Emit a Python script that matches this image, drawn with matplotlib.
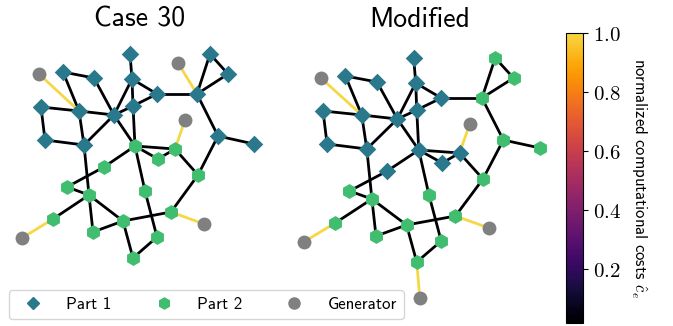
import numpy as np
import matplotlib
matplotlib.use('Agg')
import matplotlib.pyplot as plt
from matplotlib.collections import LineCollection
from matplotlib.colors import ListedColormap, Normalize
from matplotlib.cm import ScalarMappable
from matplotlib.lines import Line2D

plt.rcParams['mathtext.fontset'] = 'cm'
plt.rcParams['axes.unicode_minus'] = False
SANS = 'cmss10'

# bus layout (shared by both cases), y grows downwards
bus_names = ['A', 'B', 'C', 'D', 'E', 'F', 'G', 'H', 'I', 'J', 'K', 'L', 'M', 'N', 'O', 'P',
             'a', 'b', 'c', 'd', 'e', 'f', 'g', 'h', 'i', 'j', 'k', 'l', 'm', 'n']
bus_x = [130, 63, 94, 132, 210, 228, 157, 197, 41, 79, 133, 114, 45, 84, 218, 254,
         135, 175, 158, 104, 198, 67, 145, 89, 171, 53, 123, 93, 157, 133]
bus_y = [54, 72, 78, 79, 54, 74, 94, 94, 107, 111, 106, 115, 140, 145, 136, 144,
         146, 149, 159, 167, 175, 187, 191, 195, 212, 219, 221, 232, 237, 258]

gen_names = ['G1', 'G2', 'G3', 'G4', 'G5', 'G6']
gen_x = [39, 178, 185, 204, 22, 136]
gen_y = [74, 63, 120, 224, 238, 294]

lines = [('A', 'D'), ('B', 'C'), ('B', 'J'), ('C', 'L'), ('D', 'L'), ('D', 'G'), ('D', 'K'),
         ('K', 'a'), ('K', 'L'), ('G', 'H'), ('G', 'K'), ('E', 'H'), ('F', 'H'), ('E', 'F'),
         ('H', 'O'), ('O', 'P'), ('O', 'e'), ('I', 'J'), ('I', 'M'), ('M', 'N'), ('J', 'N'),
         ('J', 'L'), ('L', 'N'), ('L', 'a'), ('N', 'h'), ('h', 'l'), ('a', 'b'), ('a', 'c'),
         ('c', 'b'), ('b', 'e'), ('a', 'd'), ('d', 'f'), ('f', 'h'), ('a', 'g'), ('g', 'm'),
         ('e', 'i'), ('i', 'k'), ('h', 'k'), ('h', 'j'), ('k', 'l'), ('k', 'n'), ('m', 'n')]
line_cost = 0.02
gen_cost = 1.0

case_gens = {'Case 30': [('G1', 'J'), ('G2', 'H'), ('G3', 'b'), ('G4', 'i'), ('G5', 'j')],
             'Modified': [('G1', 'J'), ('G3', 'b'), ('G4', 'i'), ('G5', 'j'), ('G6', 'n')]}
case_part1 = {'Case 30': ['A', 'B', 'C', 'D', 'E', 'F', 'G', 'H', 'I', 'J', 'K', 'L', 'M', 'N', 'O', 'P'],
              'Modified': ['A', 'B', 'C', 'D', 'G', 'I', 'J', 'K', 'L', 'M', 'N', 'a', 'b', 'c', 'd']}

c_part1 = '#2a788c'
c_part2 = '#41bd70'
c_gen = '#808080'

base = plt.get_cmap('inferno')
cmap = ListedColormap(base(np.linspace(0, 0.9, 256)))
norm = Normalize(vmin=0.016, vmax=1.0)

pos = {n: (x, y) for n, x, y in zip(bus_names, bus_x, bus_y)}
pos.update({n: (x, y) for n, x, y in zip(gen_names, gen_x, gen_y)})

W, H = 673, 326
fig = plt.figure(figsize=(6.73, 3.26), dpi=100)

# axes boxes in pixels, data limits in the same units
ax_left = fig.add_axes([0, (H - 300) / H, 280 / W, 265 / H])
ax_left.set_xlim(0, 280)
ax_left.set_ylim(300, 35)
ax_right = fig.add_axes([280 / W, 0, 280 / W, 291 / H])
ax_right.set_xlim(-1.2, 273.6)
ax_right.set_ylim(322, 31)


def draw_case(ax, name):
    gens = case_gens[name]
    segs = [[pos[u], pos[v]] for u, v in lines] + [[pos[u], pos[v]] for u, v in gens]
    costs = [line_cost] * len(lines) + [gen_cost] * len(gens)
    lc = LineCollection(segs, colors=cmap(norm(costs)), linewidths=2.0, zorder=1)
    ax.add_collection(lc)
    p1 = [n for n in bus_names if n in case_part1[name]]
    p2 = [n for n in bus_names if n not in case_part1[name]]
    ax.scatter([pos[n][0] for n in p1], [pos[n][1] for n in p1], s=80, marker='D',
               c=c_part1, linewidths=0, zorder=2)
    ax.scatter([pos[n][0] for n in p2], [pos[n][1] for n in p2], s=115, marker='h',
               c=c_part2, linewidths=0, zorder=2)
    g = [u for u, v in gens]
    ax.scatter([pos[n][0] for n in g], [pos[n][1] for n in g], s=100, marker='o',
               c=c_gen, linewidths=0, zorder=2)
    ax.set_title(name, fontsize=20, family=SANS, pad=6)
    ax.axis('off')


draw_case(ax_left, 'Case 30')
draw_case(ax_right, 'Modified')

cax = fig.add_axes([566 / W, 3 / H, 17 / W, 290 / H])
cb = fig.colorbar(ScalarMappable(norm=norm, cmap=cmap), cax=cax)
ticks = [0.2, 0.4, 0.6, 0.8, 1.0]
cb.set_ticks(ticks, labels=[r'$%.1f$' % t for t in ticks])
cb.ax.tick_params(labelsize=15)
cb.set_label(r'normalized computational costs $\hat{c}_e$', rotation=270,
             family=SANS, fontsize=12, labelpad=6, va='bottom')

handles = [Line2D([], [], ls='', marker='D', ms=6.5, color=c_part1, label='Part 1'),
           Line2D([], [], ls='', marker='h', ms=8, color=c_part2, label='Part 2'),
           Line2D([], [], ls='', marker='o', ms=8, color=c_gen, label='Generator')]
fig.legend(handles=handles, loc='lower left', bbox_to_anchor=(9 / W, 7 / H), ncol=3,
           columnspacing=2.1, handletextpad=0.95, borderaxespad=0,
           prop={'family': SANS, 'size': 12.2})

fig.savefig('out.png', dpi=100)
